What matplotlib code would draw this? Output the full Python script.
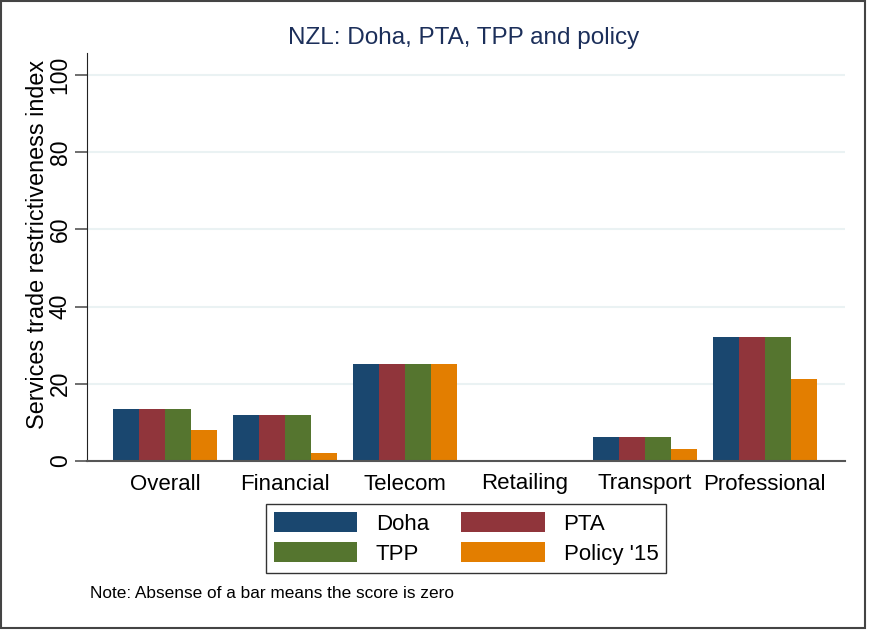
import matplotlib
matplotlib.use("Agg")
import matplotlib.pyplot as plt
import numpy as np
from matplotlib.patches import Rectangle

plt.rcParams["font.family"] = ["Liberation Sans", "DejaVu Sans"]

categories = ["Overall", "Financial", "Telecom", "Retailing", "Transport", "Professional"]
doha = [13.5, 12.0, 25.2, 0.0, 6.2, 32.0]
pta = [13.5, 12.0, 25.2, 0.0, 6.2, 32.0]
tpp = [13.5, 12.0, 25.2, 0.0, 6.2, 32.0]
policy15 = [8.0, 2.0, 25.2, 0.0, 3.1, 21.3]
series_names = ["Doha", "PTA", "TPP", "Policy '15"]
colors = ["#1a476f", "#90353b", "#55752f", "#e37e00"]
yticks = [0, 20, 40, 60, 80, 100]

fig = plt.figure(figsize=(8.7, 6.35), dpi=100)
ax = fig.add_axes([87 / 870, 1 - 461 / 635, (845 - 87) / 870, (461 - 53) / 635])

x = np.arange(len(categories))
w = 0.217
handles = []
for i, (vals, name, c) in enumerate(zip([doha, pta, tpp, policy15], series_names, colors)):
    h = ax.bar(x + (i - 1.5) * w, vals, width=w, color=c, edgecolor="none", label=name)
    handles.append(h)

ax.set_xlim(-0.65, 5.67)
ax.set_ylim(0, 105.7)
ax.set_yticks(yticks)
ax.set_yticklabels([str(t) for t in yticks], rotation=90, va="center", fontsize=16.5)
ax.set_xticks(x)
ax.set_xticklabels(categories, fontsize=16)
ax.tick_params(axis="x", length=0, pad=9)
ax.tick_params(axis="y", length=9, width=1.2, color="#555555", pad=2)
ax.yaxis.grid(True, color="#eaf2f3", linewidth=1.5)
ax.set_axisbelow(True)
for s in ["top", "right"]:
    ax.spines[s].set_visible(False)
ax.spines["left"].set_color("#222222")
ax.spines["bottom"].set_color("#555555")
ax.spines["bottom"].set_linewidth(1.5)
ax.set_ylabel("Services trade restrictiveness index", fontsize=16.8)
ax.yaxis.set_label_coords(-0.05, 0.53)

fig.text(464 / 870, 1 - 38 / 635, "NZL: Doha, PTA, TPP and policy", fontsize=17.5,
         color="#1c2f5a", ha="center", va="center")

# matplotlib fills legend columns first, so reorder to get Doha, PTA / TPP, Policy '15 by row
order = [0, 2, 1, 3]
leg = fig.legend(handles=[handles[k] for k in order],
                 labels=[series_names[k] for k in order], ncol=2, loc="center",
                 bbox_to_anchor=(466 / 870, 1 - 538.5 / 635), fontsize=16,
                 frameon=True, fancybox=False, edgecolor="black",
                 handlelength=3.75, handleheight=1.0, columnspacing=1.45,
                 handletextpad=0.85, labelspacing=0.35, borderpad=0.35)
leg.get_frame().set_linewidth(1.0)

fig.text(90 / 870, 1 - 594 / 635, "Note: Absense of a bar means the score is zero",
         fontsize=12.4, ha="left", va="center")

fig.patches.append(Rectangle((0.001, 1 - 628 / 635), 864 / 870, 627 / 635,
                             transform=fig.transFigure, fill=False,
                             edgecolor="#444444", linewidth=1.5))

fig.savefig("out.png", dpi=100)
